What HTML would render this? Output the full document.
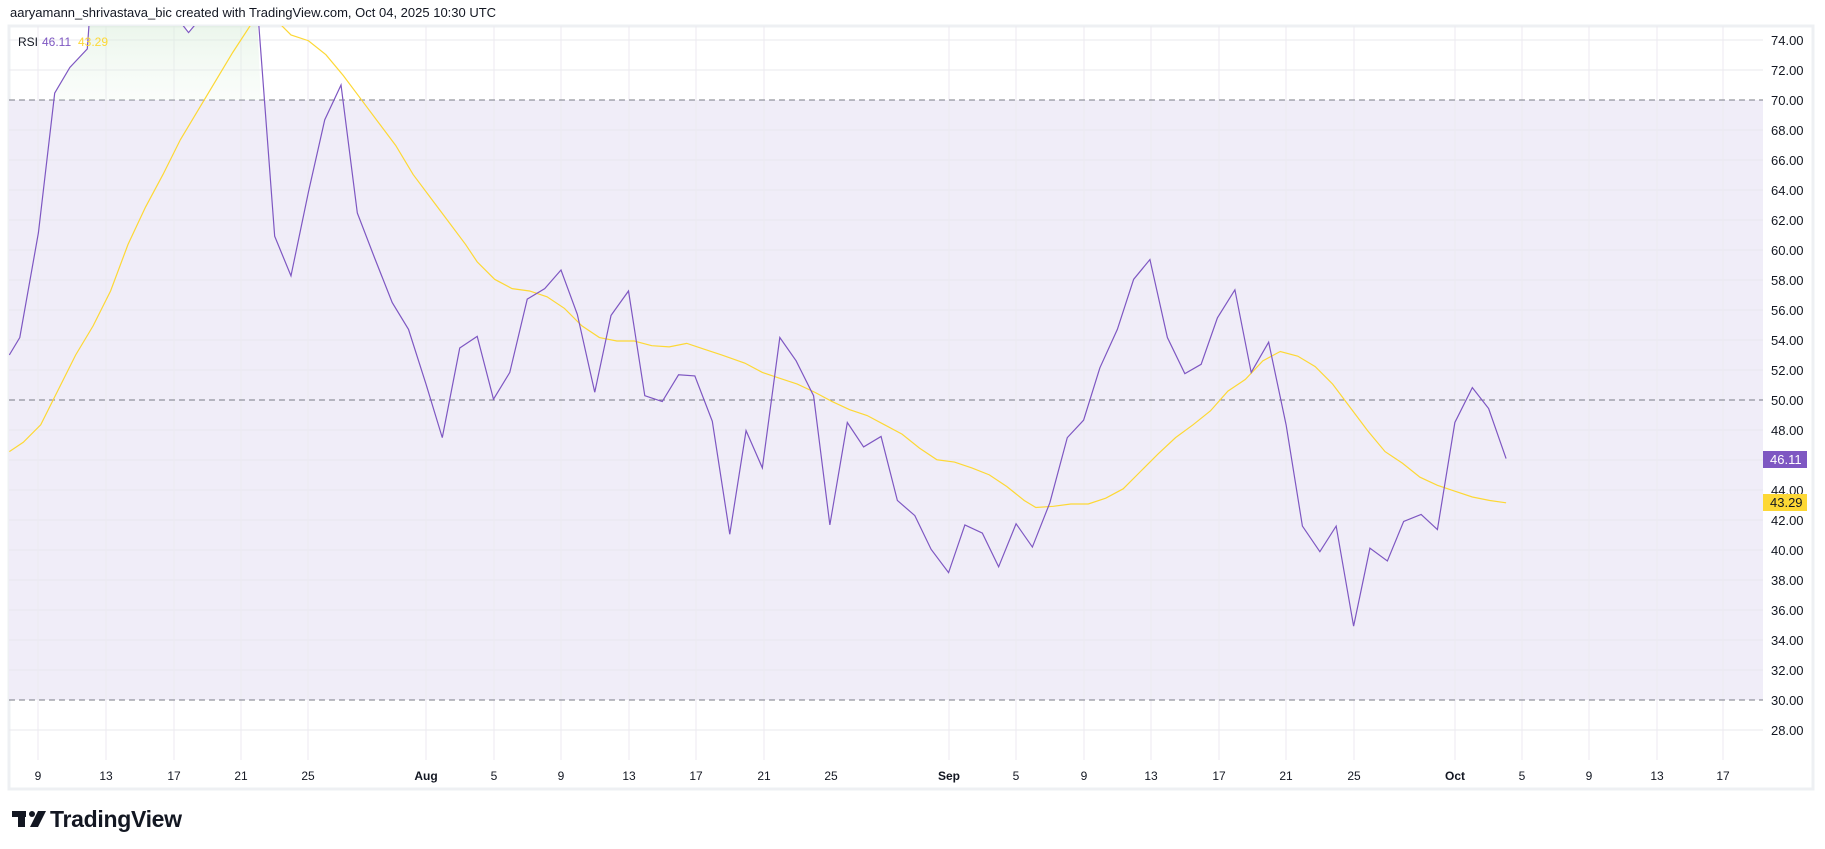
<!DOCTYPE html>
<html><head><meta charset="utf-8"><style>
html,body{margin:0;padding:0;background:#fff;}
body{width:1825px;height:849px;overflow:hidden;position:relative;font-family:"Liberation Sans",sans-serif;}
.hdr{position:absolute;left:10px;top:5px;font-size:13px;color:#131722;}
.logo{position:absolute;left:12px;top:806px;font-size:23px;font-weight:bold;color:#131722;letter-spacing:-0.3px;}
</style></head><body>
<div class="hdr">aaryamann_shrivastava_bic created with TradingView.com, Oct 04, 2025 10:30 UTC</div>
<svg width="1825" height="849" style="position:absolute;left:0;top:0" xmlns="http://www.w3.org/2000/svg">
<defs>
<clipPath id="c"><rect x="9" y="26" width="1754" height="734"/></clipPath>
<linearGradient id="gg" x1="0" y1="0" x2="0" y2="1"><stop offset="0" stop-color="#c8e6c9" stop-opacity="0.8"/><stop offset="1" stop-color="#e8f5e9" stop-opacity="0.2"/></linearGradient>
</defs>
<rect x="9" y="26" width="1804" height="763" fill="none" stroke="#eef0f3" stroke-width="3"/>
<rect x="9" y="100" width="1754" height="600" fill="#f0edf8"/>
<g stroke="#e9e8ee" stroke-width="1">
<line x1="9" x2="1763" y1="40" y2="40"/><line x1="9" x2="1763" y1="70" y2="70"/>
<line x1="9" x2="1763" y1="130" y2="130"/><line x1="9" x2="1763" y1="160" y2="160"/><line x1="9" x2="1763" y1="190" y2="190"/><line x1="9" x2="1763" y1="220" y2="220"/><line x1="9" x2="1763" y1="250" y2="250"/><line x1="9" x2="1763" y1="280" y2="280"/><line x1="9" x2="1763" y1="310" y2="310"/><line x1="9" x2="1763" y1="340" y2="340"/><line x1="9" x2="1763" y1="370" y2="370"/><line x1="9" x2="1763" y1="430" y2="430"/><line x1="9" x2="1763" y1="460" y2="460"/><line x1="9" x2="1763" y1="490" y2="490"/><line x1="9" x2="1763" y1="520" y2="520"/><line x1="9" x2="1763" y1="550" y2="550"/><line x1="9" x2="1763" y1="580" y2="580"/><line x1="9" x2="1763" y1="610" y2="610"/><line x1="9" x2="1763" y1="640" y2="640"/><line x1="9" x2="1763" y1="670" y2="670"/><line x1="9" x2="1763" y1="730" y2="730"/>
</g>
<g stroke="#eceaf0" stroke-width="1">
<line x1="38" x2="38" y1="26" y2="760"/><line x1="106" x2="106" y1="26" y2="760"/><line x1="174" x2="174" y1="26" y2="760"/><line x1="241" x2="241" y1="26" y2="760"/><line x1="308" x2="308" y1="26" y2="760"/><line x1="426" x2="426" y1="26" y2="760"/><line x1="494" x2="494" y1="26" y2="760"/><line x1="561" x2="561" y1="26" y2="760"/><line x1="629" x2="629" y1="26" y2="760"/><line x1="696" x2="696" y1="26" y2="760"/><line x1="764" x2="764" y1="26" y2="760"/><line x1="949" x2="949" y1="26" y2="760"/><line x1="1016" x2="1016" y1="26" y2="760"/><line x1="1084" x2="1084" y1="26" y2="760"/><line x1="1151" x2="1151" y1="26" y2="760"/><line x1="1219" x2="1219" y1="26" y2="760"/><line x1="1286" x2="1286" y1="26" y2="760"/><line x1="1354" x2="1354" y1="26" y2="760"/><line x1="1455" x2="1455" y1="26" y2="760"/><line x1="1522" x2="1522" y1="26" y2="760"/><line x1="1589" x2="1589" y1="26" y2="760"/><line x1="1657" x2="1657" y1="26" y2="760"/><line x1="1723" x2="1723" y1="26" y2="760"/>
</g>
<g stroke="#787b86" stroke-width="1" stroke-dasharray="6,4">
<line x1="9" x2="1763" y1="100" y2="100"/><line x1="9" x2="1763" y1="400" y2="400"/><line x1="9" x2="1763" y1="700" y2="700"/>
</g>
<g clip-path="url(#c)">
<g transform="scale(1.1639)">
<polygon fill="url(#gg)" points="45,86 47,80 60,58 75,42 78,0 90,-40 104,-20 119,-30 133,-10 148,10 162,28 177,10 191,-20 206,-30 220,-10 224,86"/>
<polyline fill="none" stroke="#fdd835" stroke-width="1.2" vector-effect="non-scaling-stroke" points="8,388 20,380 35,365 50,335 65,305 80,280 95,250 110,210 125,178 140,150 155,120 170,95 185,70 200,45 215,22 225,10 235,15 250,30 265,35 280,47 295,65 310,85 325,105 340,125 355,150 370,170 385,190 400,210 410,225 425,240 440,248 455,250 470,255 485,265 500,280 515,290 530,293 545,293 560,297 575,298 590,295 605,300 620,305 640,312 655,320 670,325 685,330 700,337 715,345 730,352 745,357 760,365 775,373 790,385 805,395 820,397 835,402 850,408 865,418 880,430 890,436 905,435 920,433 935,433 950,428 965,420 980,405 995,390 1010,376 1025,365 1040,353 1055,336 1070,326 1085,310 1100,302 1115,306 1130,315 1145,330 1160,350 1175,370 1190,388 1205,398 1220,410 1235,417 1250,422 1265,427 1280,430 1294,432"/>
<polyline fill="none" stroke="#7e57c2" stroke-width="1.2" vector-effect="non-scaling-stroke" points="8,305 17,290 33,200 47,80 60,58 75,42 78,0 90,-40 104,-20 119,-30 133,-10 148,10 162,28 177,10 191,-20 206,-30 220,-10 236,203 250,237 265,165 279,103 293,73 307,183 322,222 337,260 351,283 366,330 380,376 395,299 410,289 424,343 438,320 453,257 468,248 482,232 496,270 511,337 525,271 540,250 554,340 569,345 583,322 597,323 612,362 627,459 641,370 655,402 670,290 684,310 699,340 713,451 728,363 742,384 757,375 771,430 786,443 800,472 815,492 829,451 844,458 858,487 873,450 887,470 902,432 917,376 931,361 945,316 960,283 974,240 988,223 1003,290 1018,321 1032,313 1046,273 1061,249 1075,320 1090,294 1105,365 1119,452 1134,474 1148,452 1163,538 1177,471 1192,482 1206,448 1221,442 1235,455 1250,363 1265,333 1279,351 1294,394"/>
</g>
</g>
<g font-family="Liberation Sans, sans-serif" font-size="12" fill="#131722">
<text x="18" y="46">RSI</text>
<text x="42" y="46" fill="#7e57c2">46.11</text>
<text x="78" y="46" fill="#fdd835">43.29</text>
</g>
<g font-family="Liberation Sans, sans-serif" font-size="13" fill="#131722" text-anchor="start">
<text x="1771" y="45">74.00</text><text x="1771" y="75">72.00</text><text x="1771" y="105">70.00</text><text x="1771" y="135">68.00</text><text x="1771" y="165">66.00</text><text x="1771" y="195">64.00</text><text x="1771" y="225">62.00</text><text x="1771" y="255">60.00</text><text x="1771" y="285">58.00</text><text x="1771" y="315">56.00</text><text x="1771" y="345">54.00</text><text x="1771" y="375">52.00</text><text x="1771" y="405">50.00</text><text x="1771" y="435">48.00</text><text x="1771" y="495">44.00</text><text x="1771" y="525">42.00</text><text x="1771" y="555">40.00</text><text x="1771" y="585">38.00</text><text x="1771" y="615">36.00</text><text x="1771" y="645">34.00</text><text x="1771" y="675">32.00</text><text x="1771" y="705">30.00</text><text x="1771" y="735">28.00</text>
</g>
<rect x="1763" y="451" width="44" height="17" fill="#7e57c2"/>
<text x="1770" y="464" font-family="Liberation Sans, sans-serif" font-size="13" fill="#fff">46.11</text>
<rect x="1763" y="494" width="44" height="17" fill="#fdd835"/>
<text x="1770" y="507" font-family="Liberation Sans, sans-serif" font-size="13" fill="#131722">43.29</text>
<g font-family="Liberation Sans, sans-serif" font-size="12" fill="#131722" text-anchor="middle">
<text x="38" y="780">9</text><text x="106" y="780">13</text><text x="174" y="780">17</text><text x="241" y="780">21</text><text x="308" y="780">25</text><text x="426" y="780" font-weight="bold">Aug</text><text x="494" y="780">5</text><text x="561" y="780">9</text><text x="629" y="780">13</text><text x="696" y="780">17</text><text x="764" y="780">21</text><text x="831" y="780">25</text><text x="949" y="780" font-weight="bold">Sep</text><text x="1016" y="780">5</text><text x="1084" y="780">9</text><text x="1151" y="780">13</text><text x="1219" y="780">17</text><text x="1286" y="780">21</text><text x="1354" y="780">25</text><text x="1455" y="780" font-weight="bold">Oct</text><text x="1522" y="780">5</text><text x="1589" y="780">9</text><text x="1657" y="780">13</text><text x="1723" y="780">17</text>
</g>
<g fill="#131722">
<rect x="12" y="811" width="14" height="6"/><rect x="18" y="811" width="7" height="16"/>
<circle cx="32" cy="814" r="3"/><polygon points="38,811 46,811 38,827 30,827"/>
</g>
</svg>
<div class="logo" style="left:50px;top:806px">TradingView</div>
</body></html>
